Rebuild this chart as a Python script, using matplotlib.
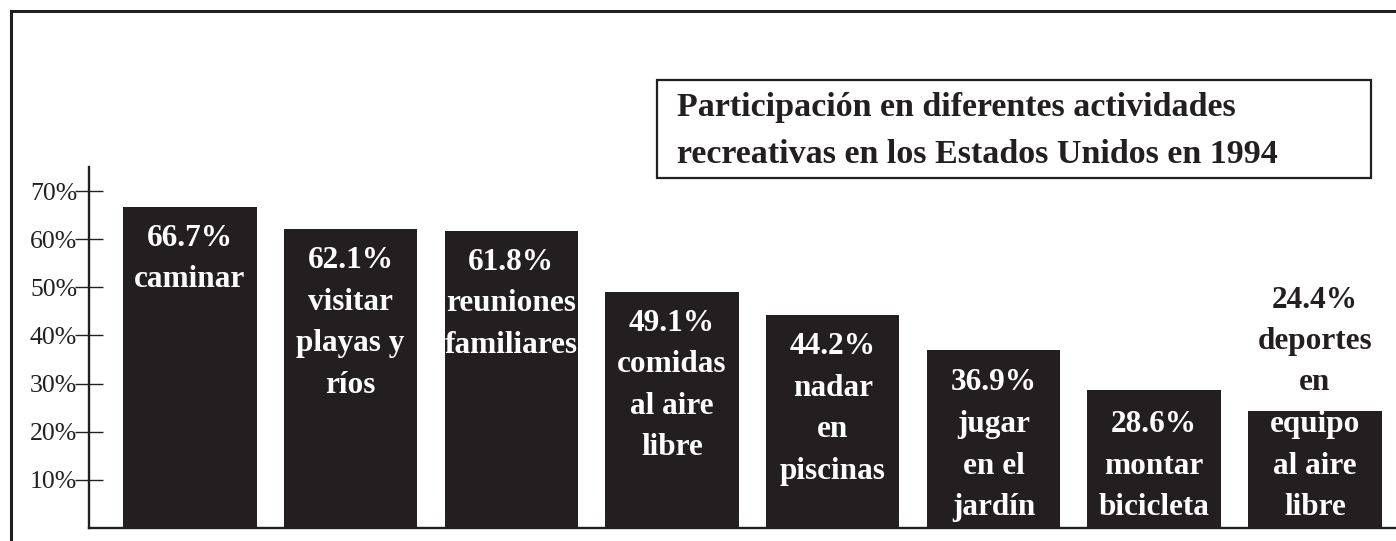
import math
import matplotlib
matplotlib.use("Agg")
import matplotlib.pyplot as plt
from matplotlib.lines import Line2D
from matplotlib.patches import Rectangle

# ---- data ----
values = [66.7, 62.1, 61.8, 49.1, 44.2, 36.9, 28.6, 24.4]
activities = [
    "caminar",
    "visitar\nplayas y\nríos",
    "reuniones\nfamiliares",
    "comidas\nal aire\nlibre",
    "nadar\nen\npiscinas",
    "jugar\nen el\njardín",
    "montar\nbicicleta",
    "deportes\nen\nequipo\nal aire\nlibre",
]
yticks = [10, 20, 30, 40, 50, 60, 70]
ytick_labels = ["10%", "20%", "30%", "40%", "50%", "60%", "70%"]
title_lines = ["Participación en diferentes actividades",
               "recreativas en los Estados Unidos en 1994"]

# ---- style ----
W, H, DPI = 1396, 541, 100
DARK = "#231f20"
SERIF = ["Liberation Serif", "DejaVu Serif"]
LABEL_FS = 22.5
LINE_PX = 41.5
FIRST_BASE_PX = 39
BOTTOM_PAD_PX = 13
FIT_MARGIN_PX = 22

fig = plt.figure(figsize=(W / DPI, H / DPI), dpi=DPI)
fig.patch.set_facecolor("white")

ax_left, ax_bottom = 89, 13
ax_top = 167
ax = fig.add_axes([ax_left / W, ax_bottom / H, (W - ax_left) / W, (H - ax_bottom - ax_top) / H])
ymax = 75
ax.set_ylim(0, ymax)
ax.set_xlim(-0.628, 7.505)
px_per_unit = (H - ax_bottom - ax_top) / ymax

x = list(range(len(values)))
ax.bar(x, values, width=0.83, color=DARK, edgecolor="none", zorder=2)

for s in ["top", "right"]:
    ax.spines[s].set_visible(False)
for s in ["left", "bottom"]:
    ax.spines[s].set_linewidth(1.7)
    ax.spines[s].set_color(DARK)
    ax.spines[s].set_zorder(3)

ax.set_xticks([])
ax.set_yticks(yticks)
ax.set_yticklabels(ytick_labels, fontfamily=SERIF, fontsize=18.5, color=DARK)
ax.tick_params(axis="y", direction="inout", length=20, width=1.0, color=DARK, pad=-1.5)

pt = 72.0 / DPI  # points per pixel
for xi, v, act in zip(x, values, activities):
    lines = [f"{v}%"] + act.split("\n")
    n = len(lines)
    bar_px = v * px_per_unit
    if FIRST_BASE_PX + (n - 1) * LINE_PX + FIT_MARGIN_PX <= bar_px:
        for i, t in enumerate(lines):
            ax.annotate(t, xy=(xi, v), xytext=(0, -(FIRST_BASE_PX + i * LINE_PX) * pt),
                        textcoords="offset points", ha="center", va="baseline",
                        fontfamily=SERIF, fontweight="bold", fontsize=LABEL_FS,
                        color="white", zorder=4)
    else:
        n_in = int((bar_px - BOTTOM_PAD_PX) / LINE_PX + 0.5)
        for i, t in enumerate(lines):
            k = n - 1 - i
            col = "white" if i >= n - n_in else DARK
            ax.annotate(t, xy=(xi, 0), xytext=(0, (BOTTOM_PAD_PX + k * LINE_PX) * pt),
                        textcoords="offset points", ha="center", va="baseline",
                        fontfamily=SERIF, fontweight="bold", fontsize=LABEL_FS,
                        color=col, zorder=4, annotation_clip=False)

# outer frame (left and top edges)
fig.add_artist(Line2D([10.5 / W, 10.5 / W], [0, 1 - 11 / H], transform=fig.transFigure,
                      color=DARK, lw=2.2, solid_capstyle="projecting"))
fig.add_artist(Line2D([10.5 / W, 1], [1 - 11 / H, 1 - 11 / H], transform=fig.transFigure,
                      color=DARK, lw=2.2, solid_capstyle="projecting"))

# title box
bx0, by0, bx1, by1 = 657, 80, 1371, 178
fig.add_artist(Rectangle((bx0 / W, 1 - by1 / H), (bx1 - bx0) / W, (by1 - by0) / H,
                         transform=fig.transFigure, fill=False, edgecolor=DARK, lw=1.6))
for j, tl in enumerate(title_lines):
    fig.text(677 / W, 1 - (116 + j * 47) / H, tl, ha="left", va="baseline",
             fontfamily=SERIF, fontweight="bold", fontsize=24.5, color=DARK)

fig.savefig("out.png", dpi=DPI, facecolor="white")
